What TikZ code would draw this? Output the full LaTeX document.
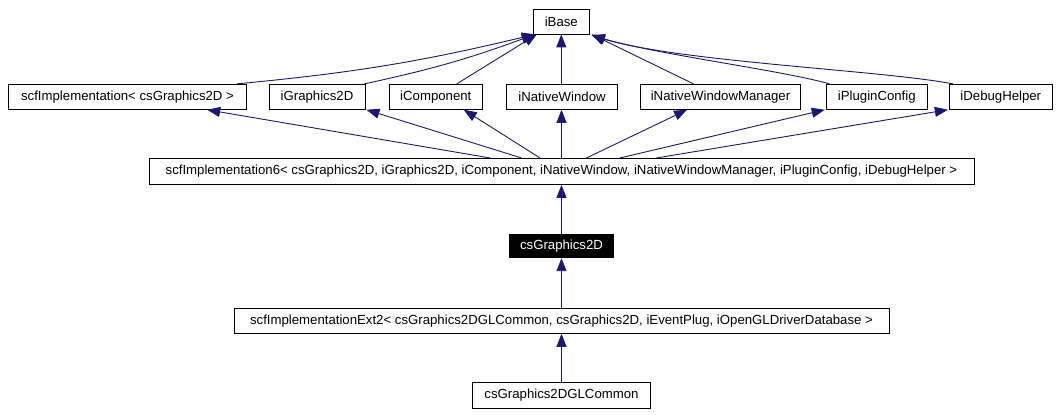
\documentclass[tikz,border=0pt]{standalone}
\usepackage{fontspec}
\setmainfont{Liberation Sans}
\usetikzlibrary{arrows.meta,calc}
\definecolor{edgeblue}{HTML}{191970}
\begin{document}
\begin{tikzpicture}[x=1pt,y=-1pt,
  cls/.style={draw=black,line width=0.9pt,fill=white,inner sep=0pt,
    font=\fontsize{13.2}{15}\selectfont,text=black,minimum height=25pt},
  cur/.style={cls,fill=black,text=white},
  edge/.style={draw=edgeblue,line width=0.9pt,-{Triangle[length=13pt,width=10pt]}}]
\useasboundingbox (0,0) rectangle (1058,415);
% nodes
\node[cls,minimum width=56pt,minimum height=24.5pt] (iBase) at (561.3,21.7) {iBase};
\node[cls,minimum width=238.4pt] (sI) at (127.5,96.8) {scfImplementation< csGraphics2D >};
\node[cls,minimum width=96pt] (iG) at (317,96.8) {iGraphics2D};
\node[cls,minimum width=93pt] (iC) at (435.8,96.8) {iComponent};
\node[cls,minimum width=110.6pt] (iNW) at (562,96.8) {iNativeWindow};
\node[cls,minimum width=160.4pt] (iNWM) at (720.5,96.8) {iNativeWindowManager};
\node[cls,minimum width=100.3pt] (iPC) at (876.8,96.8) {iPluginConfig};
\node[cls,minimum width=103pt] (iDH) at (1000.8,96.8) {iDebugHelper};
\node[cls,minimum width=825pt,minimum height=26pt] (s6) at (561.5,171.4)
  {scfImplementation6< csGraphics2D, iGraphics2D, iComponent, iNativeWindow, iNativeWindowManager, iPluginConfig, iDebugHelper >};
\node[cur,minimum width=104.7pt,minimum height=23.4pt] (csG) at (561.5,246) {csGraphics2D};
\node[cls,minimum width=655pt] (ext) at (561.5,320.8)
  {scfImplementationExt2< csGraphics2DGLCommon, csGraphics2D, iEventPlug, iOpenGLDriverDatabase >};
\node[cls,minimum width=178pt,minimum height=26.7pt] (glc) at (561.5,395.3) {csGraphics2DGLCommon};
% row 2 -> iBase
\draw[edge] ($(sI.north east)+(-10,0)$) to[bend right=4] ($(iBase.south west)+(2,0)$);
\draw[edge] ($(iG.north east)+(-1,0)$) to[bend right=4] ($(iBase.south west)+(2,0)$);
\draw[edge] ($(iC.north)+(21,0)$) -- ($(iBase.south west)+(4,0)$);
\draw[edge] (iNW.north -| iBase.south) -- (iBase.south);
\draw[edge] ($(iNWM.north)+(-27,0)$) -- ($(iBase.south east)+(2,0)$);
\draw[edge] ($(iPC.north west)+(3.3,0)$) .. controls (780,70) and (660,55) .. ($(iBase.south east)+(2,1)$);
\draw[edge] ($(iDH.north west)+(4,0)$) .. controls (880,70) and (680,62) .. ($(iBase.south east)+(2,1)$);
% s6 -> row 2
\draw[edge] ($(s6.north)+(-71.5,0)$) -- ($(sI.south east)+(-40,0)$);
\draw[edge] ($(s6.north)+(-40,0)$) -- ($(iG.south east)+(1,0)$);
\draw[edge] ($(s6.north)+(-21.5,0)$) -- ($(iC.south east)+(-19,0)$);
\draw[edge] (s6.north) -- (s6.north |- iNW.south);
\draw[edge] ($(s6.north)+(25,0)$) -- ($(iNWM.south)+(-33.5,0)$);
\draw[edge] ($(s6.north)+(58.5,0)$) -- ($(iPC.south west)+(-1.5,0)$);
\draw[edge] ($(s6.north)+(95,0)$) -- ($(iDH.south west)+(-1,0)$);
% chain
\draw[edge] (csG.north) -- (s6.south);
\draw[edge] (ext.north) -- (csG.south);
\draw[edge] (glc.north) -- (ext.south);
\end{tikzpicture}
\end{document}
